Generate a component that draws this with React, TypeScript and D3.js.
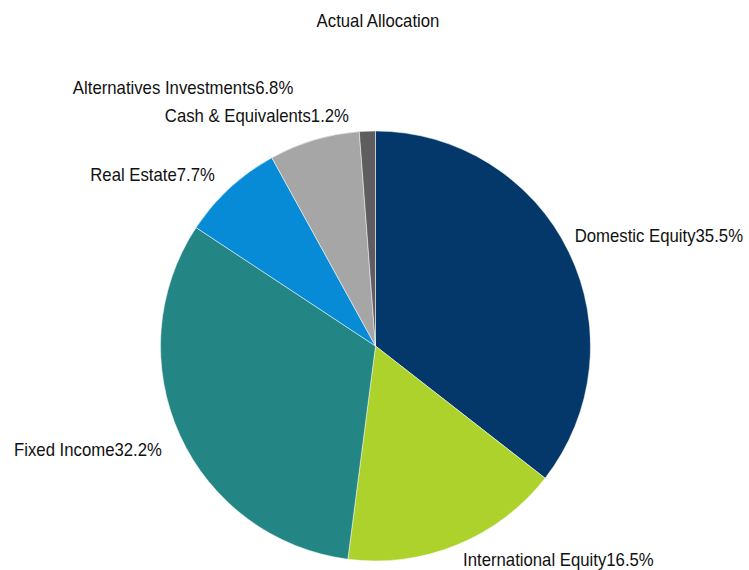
import React from 'react'
import * as d3 from 'd3'

const categories = [
  'Domestic Equity',
  'International Equity',
  'Fixed Income',
  'Real Estate',
  'Alternatives Investments',
  'Cash & Equivalents',
]
const shares = [35.5, 16.5, 32.2, 7.7, 6.8, 1.2]
const colors = ['#04386b', '#add22b', '#238584', '#078bd7', '#a6a6a6', '#5e5e60']
const title = 'Actual Allocation'

const W = 749
const H = 570
const cx = 375.5
const cy = 346
const R = 215
const FONT = '"Liberation Sans", Arial, sans-serif'
const FS = 18
const SQUEEZE = 0.93 // the original uses a condensed face

// hand placement of the data labels, relative to a point just outside the rim
const labelR = R + 10
const labelNudge: [number, number][] = [
  [-3, -5],
  [2, 12],
  [-9, 16],
  [-8, 0],
  [-18, -36],
  [-18, 1],
]

type Row = { name: string; value: number; color: string }

const App = () => {
  const rows: Row[] = categories.map((name, i) => ({ name, value: shares[i], color: colors[i] }))
  const pie = d3.pie<Row>().sort(null).value((d) => d.value)
  const arcs = pie(rows)
  const arc = d3.arc<d3.PieArcDatum<Row>>().innerRadius(0).outerRadius(R)

  const labels = arcs.map((a, i) => {
    const mid = (a.startAngle + a.endAngle) / 2
    const s = Math.sin(mid)
    const c = Math.cos(mid)
    return {
      text: `${a.data.name}${d3.format('.1f')(a.data.value)}%`,
      x: cx + labelR * s + labelNudge[i][0],
      y: cy - labelR * c + labelNudge[i][1],
      right: s >= 0,
    }
  })

  return (
    <svg width={W} height={H} style={{ position: 'absolute', left: 0, top: 0, background: '#fff' }}>
      <text
        transform={`translate(378,27) scale(${SQUEEZE},1)`}
        textAnchor="middle"
        fontFamily={FONT}
        fontSize={FS}
        fill="#111"
      >
        {title}
      </text>
      <g transform={`translate(${cx},${cy})`}>
        {arcs.map((a, i) => (
          <path key={i} d={arc(a) || ''} fill={a.data.color} stroke="#fff" strokeWidth={0.5} />
        ))}
      </g>
      {labels.map((l, i) => (
        <text
          key={i}
          transform={`translate(${l.x},${l.y}) scale(${SQUEEZE},1)`}
          textAnchor={l.right ? 'start' : 'end'}
          fontFamily={FONT}
          fontSize={FS}
          fill="#111"
        >
          {l.text}
        </text>
      ))}
    </svg>
  )
}

export default App
